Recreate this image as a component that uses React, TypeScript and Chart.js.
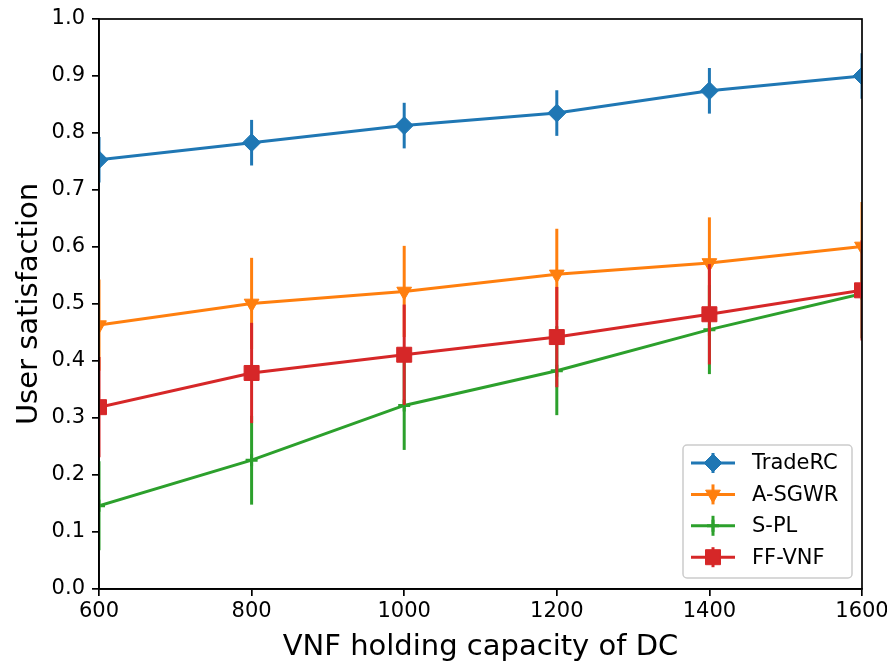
import React, { useEffect, useRef } from 'react';
import { Chart, registerables } from 'chart.js';
import { drawPoint } from 'chart.js/helpers';

Chart.register(...registerables);

// ---- data ----
const capacities = [600, 800, 1000, 1200, 1400, 1600];

const tradeRC = [0.753, 0.783, 0.813, 0.835, 0.874, 0.900];
const tradeRCErr = [0.04, 0.04, 0.04, 0.04, 0.04, 0.04];

const aSGWR = [0.463, 0.501, 0.522, 0.552, 0.572, 0.601];
const aSGWRErr = [0.08, 0.08, 0.08, 0.08, 0.08, 0.078];

const sPL = [0.146, 0.226, 0.322, 0.383, 0.455, 0.518];
const sPLErr = [0.078, 0.078, 0.078, 0.078, 0.078, 0.078];

const ffVNF = [0.319, 0.379, 0.411, 0.442, 0.482, 0.524];
const ffVNFErr = [0.088, 0.088, 0.088, 0.088, 0.088, 0.088];

const seriesNames = ['TradeRC', 'A-SGWR', 'S-PL', 'FF-VNF'];
const xTitle = 'VNF holding capacity of DC';
const yTitle = 'User satisfaction';

const FONT = "'DejaVu Sans', sans-serif";

export default function App() {
  const ref = useRef<HTMLCanvasElement>(null);

  useEffect(() => {
    document.body.style.margin = '0';
    const canvas = ref.current;
    if (!canvas) return;

    const series = [
      { label: seriesNames[0], values: tradeRC, err: tradeRCErr, color: '#1f77b4', style: 'rectRot', radius: 9, rotation: 0, bw: 1, order: 4 },
      { label: seriesNames[1], values: aSGWR, err: aSGWRErr, color: '#ff7f0e', style: 'triangle', radius: 8.5, rotation: 180, bw: 1, order: 3 },
      { label: seriesNames[2], values: sPL, err: sPLErr, color: '#2ca02c', style: 'cross', radius: 6, rotation: 0, bw: 3, order: 2 },
      { label: seriesNames[3], values: ffVNF, err: ffVNFErr, color: '#d62728', style: 'rect', radius: 10.6, rotation: 0, bw: 1, order: 1 },
    ];

    const datasets = series.map((s) => ({
      label: s.label,
      data: capacities.map((c, i) => ({ x: c, y: s.values[i] })),
      errors: s.err,
      borderColor: s.color,
      backgroundColor: s.color,
      borderWidth: 3,
      pointStyle: s.style,
      pointRadius: s.radius,
      pointRotation: s.rotation,
      pointBackgroundColor: s.color,
      pointBorderColor: s.color,
      pointBorderWidth: s.bw,
      showLine: true,
      fill: false,
      tension: 0,
      clip: 0,
      order: s.order,
    }));

    const errorBars = {
      id: 'errorBars',
      beforeDatasetDraw(chart: any, args: any) {
        const ds = chart.data.datasets[args.index];
        const err = ds.errors;
        if (!err) return;
        const { ctx, chartArea: a } = chart;
        const x = chart.scales.x;
        const y = chart.scales.y;
        ctx.save();
        ctx.beginPath();
        ctx.rect(a.left, a.top, a.right - a.left, a.bottom - a.top);
        ctx.clip();
        ctx.strokeStyle = ds.borderColor;
        ctx.lineWidth = 3;
        ctx.lineCap = 'butt';
        ds.data.forEach((p: any, i: number) => {
          const px = x.getPixelForValue(p.x);
          ctx.beginPath();
          ctx.moveTo(px, y.getPixelForValue(p.y - err[i]));
          ctx.lineTo(px, y.getPixelForValue(p.y + err[i]));
          ctx.stroke();
        });
        ctx.restore();
      },
    };

    const frame = {
      id: 'frame',
      afterDatasetsDraw(chart: any) {
        const { ctx, chartArea: a } = chart;
        ctx.save();
        ctx.strokeStyle = '#000';
        ctx.lineWidth = 1.7;
        ctx.strokeRect(a.left, a.top, a.right - a.left, a.bottom - a.top);
        ctx.restore();
      },
    };

    const titles = {
      id: 'titles',
      afterDraw(chart: any) {
        const { ctx, chartArea: a } = chart;
        ctx.save();
        ctx.fillStyle = '#000';
        ctx.font = `29px ${FONT}`;
        ctx.textAlign = 'center';
        ctx.textBaseline = 'alphabetic';
        ctx.fillText(xTitle, (a.left + a.right) / 2, 655);
        ctx.translate(37, (a.top + a.bottom) / 2);
        ctx.rotate(-Math.PI / 2);
        ctx.fillText(yTitle, 0, 0);
        ctx.restore();
      },
    };

    const legend = {
      id: 'customLegend',
      afterDraw(chart: any) {
        const { ctx, chartArea: a } = chart;
        const lw = 169, lh = 133;
        const lx = a.right - 10 - lw;
        const ly = a.bottom - 11 - lh;
        ctx.save();
        ctx.beginPath();
        ctx.roundRect(lx, ly, lw, lh, 4);
        ctx.fillStyle = 'rgba(255,255,255,0.8)';
        ctx.fill();
        ctx.strokeStyle = '#cccccc';
        ctx.lineWidth = 1.5;
        ctx.stroke();
        series.forEach((s, i) => {
          const yy = ly + 18 + i * 31.4;
          const x0 = lx + 8, x1 = lx + 52, xm = (x0 + x1) / 2;
          ctx.strokeStyle = s.color;
          ctx.fillStyle = s.color;
          ctx.lineWidth = 3;
          ctx.beginPath();
          ctx.moveTo(x0, yy);
          ctx.lineTo(x1, yy);
          ctx.stroke();
          ctx.beginPath();
          ctx.moveTo(xm, yy - 10);
          ctx.lineTo(xm, yy + 10);
          ctx.stroke();
          ctx.lineWidth = s.bw;
          drawPoint(ctx, { pointStyle: s.style, radius: s.radius, rotation: s.rotation, borderWidth: s.bw } as any, xm, yy);
          ctx.fillStyle = '#000';
          ctx.font = `21px ${FONT}`;
          ctx.textAlign = 'left';
          ctx.textBaseline = 'middle';
          ctx.fillText(s.label, lx + 69, yy + 1);
        });
        ctx.restore();
      },
    };

    const chart = new Chart(canvas, {
      type: 'line',
      data: { datasets: datasets as any },
      options: {
        responsive: false,
        animation: false,
        events: [],
        layout: { padding: { top: 19, right: 25, left: 0, bottom: 0 }, autoPadding: false },
        plugins: { legend: { display: false }, tooltip: { enabled: false }, title: { display: false } },
        scales: {
          x: {
            type: 'linear',
            min: 600,
            max: 1600,
            afterFit(scale: any) {
              scale.height = 73;
              scale.paddingLeft = 0;
              scale.paddingRight = 0;
            },
            ticks: {
              stepSize: 200,
              color: '#000',
              font: { family: FONT, size: 21 },
              padding: 3,
              maxRotation: 0,
              autoSkip: false,
              callback: (v: any) => String(v),
            },
            grid: { drawOnChartArea: false, drawTicks: true, tickLength: 7, color: '#000', lineWidth: 1.7 },
            border: { display: true, color: '#000', width: 1.7 },
          },
          y: {
            type: 'linear',
            min: 0,
            max: 1,
            afterFit(scale: any) {
              scale.width = 99;
              scale.paddingTop = 0;
              scale.paddingBottom = 0;
            },
            ticks: {
              stepSize: 0.1,
              color: '#000',
              font: { family: FONT, size: 21 },
              padding: 7,
              callback: (v: any) => Number(v).toFixed(1),
            },
            grid: { drawOnChartArea: false, drawTicks: true, tickLength: 7, color: '#000', lineWidth: 1.7 },
            border: { display: true, color: '#000', width: 1.7 },
          },
        },
      },
      plugins: [errorBars, frame, titles, legend],
    });

    return () => chart.destroy();
  }, []);

  return (
    <div style={{ width: 887, height: 662, background: '#fff' }}>
      <canvas ref={ref} width={887} height={662} style={{ display: 'block' }} />
    </div>
  );
}
